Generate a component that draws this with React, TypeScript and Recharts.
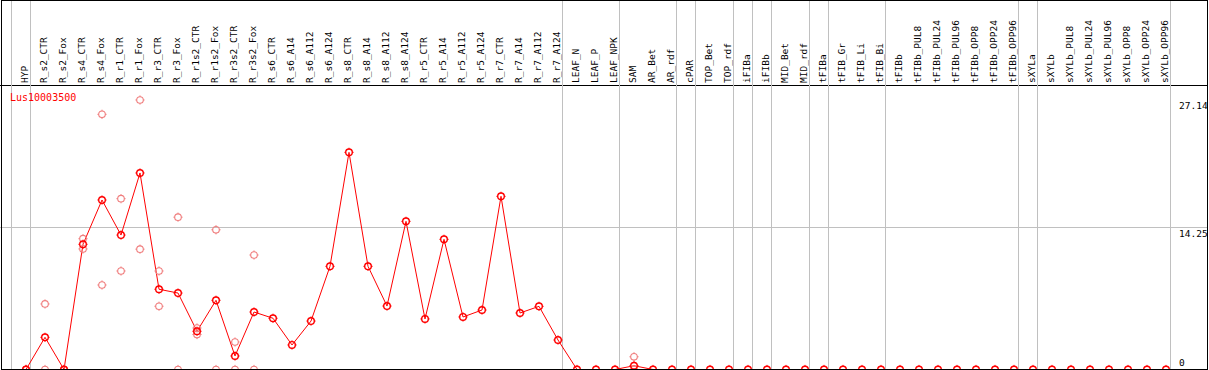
import React from 'react';
import { ComposedChart, Line, XAxis, YAxis, ReferenceLine } from 'recharts';

const CATEGORIES = [
  'HYP', 'R_s2_CTR', 'R_s2_Fox', 'R_s4_CTR', 'R_s4_Fox', 'R_r1_CTR', 'R_r1_Fox', 'R_r3_CTR', 'R_r3_Fox',
  'R_r1s2_CTR', 'R_r1s2_Fox', 'R_r3s2_CTR', 'R_r3s2_Fox', 'R_s6_CTR', 'R_s6_A14', 'R_s6_A112', 'R_s6_A124',
  'R_s8_CTR', 'R_s8_A14', 'R_s8_A112', 'R_s8_A124', 'R_r5_CTR', 'R_r5_A14', 'R_r5_A112', 'R_r5_A124',
  'R_r7_CTR', 'R_r7_A14', 'R_r7_A112', 'R_r7_A124', 'LEAF_N', 'LEAF_P', 'LEAF_NPK', 'SAM', 'AR_Bet', 'AR_rdf',
  'cPAR', 'TOP_Bet', 'TOP_rdf', 'iFIBa', 'iFIBb', 'MID_Bet', 'MID_rdf', 'tFIBa', 'tFIB_Gr', 'tFIB_Li', 'tFIB_Bi',
  'tFIBb', 'tFIBb_PUL8', 'tFIBb_PUL24', 'tFIBb_PUL96', 'tFIBb_OPP8', 'tFIBb_OPP24', 'tFIBb_OPP96', 'sXYLa',
  'sXYLb', 'sXYLb_PUL8', 'sXYLb_PUL24', 'sXYLb_PUL96', 'sXYLb_OPP8', 'sXYLb_OPP24', 'sXYLb_OPP96',
];

const MEANS = [
  0, 3.24, 0, 12.61, 17.07, 13.54, 19.79, 8.08, 7.7,
  3.85, 6.97, 1.36, 5.79, 5.16, 2.47, 4.88, 10.39,
  21.87, 10.39, 6.39, 14.92, 5.09, 13.11, 5.29, 5.99,
  17.44, 5.69, 6.36, 2.97, 0, 0, 0, 0.38, 0, 0,
  0, 0, 0, 0, 0, 0, 0, 0, 0, 0, 0,
  0, 0, 0, 0, 0, 0, 0, 0,
  0, 0, 0, 0, 0, 0, 0,
];

const N = null;
const REP_A = [
  0, 6.6, 0, 13.17, 25.7, 17.2, 27.14, 9.92, 15.34,
  4.18, 14.07, 2.77, 11.53, N, N, N, N,
  N, N, N, N, N, N, N, N,
  N, N, N, N, N, N, N, 1.28, N, N,
  N, N, N, N, N, N, N, N, N, N, N,
  N, N, N, N, N, N, N, N,
  N, N, N, N, N, N, N,
];
const REP_B = [
  0, 0, 0, 12.14, 8.51, 9.92, 12.12, 6.37, 0,
  3.52, 0, 0, 0, N, N, N, N,
  N, N, N, N, N, N, N, N,
  N, N, N, N, N, N, N, 0, N, N,
  N, N, N, N, N, N, N, N, N, N, N,
  N, N, N, N, N, N, N, N,
  N, N, N, N, N, N, N,
];

const GROUP_ENDS = [-1, 0, 28, 31, 34, 35, 37, 38, 39, 41, 42, 45, 52, 53, 60];
const Y_TICKS = [0, 14.25, 27.14];
const GENE = 'Lus10003500';

const W = 1209;
const H = 370;
const PLOT_W = W - 1;
const SEP_OFFSET = 0.24;
const X_MIN = -26 / 19;
const X_MAX = (PLOT_W - 26) / 19;
const Y_MAX = 28.6;
const HEADER_H = 85.5;
const MONO = "'DejaVu Sans Mono', monospace";
const GRID = '#c0c0c0';

const rows = CATEGORIES.map((name, i) => ({ i, name, mean: MEANS[i], a: REP_A[i], b: REP_B[i] }));
const sepValues = GROUP_ENDS.map((k) => k + SEP_OFFSET);
const xTicks = [...CATEGORIES.map((_, i) => i), ...sepValues];

const makeDot = (color: string, sw: number) => (props: any) => {
  const { cx, cy, value, index } = props;
  const key = `d${index}`;
  if (value == null || cx == null || cy == null || Number.isNaN(cy)) return <g key={key} />;
  const r = 3.3;
  return (
    <g key={key}>
      <circle cx={cx} cy={cy} r={r} fill="none" stroke={color} strokeWidth={sw} />
      <line x1={cx} y1={cy - r - 1.3} x2={cx} y2={cy - r + 0.3} stroke={color} strokeWidth={1} />
      <line x1={cx} y1={cy + r - 0.3} x2={cx} y2={cy + r + 1.3} stroke={color} strokeWidth={1} />
      <line x1={cx - r - 1.3} y1={cy} x2={cx - r + 0.3} y2={cy} stroke={color} strokeWidth={1} />
      <line x1={cx + r - 0.3} y1={cy} x2={cx + r + 1.3} y2={cy} stroke={color} strokeWidth={1} />
    </g>
  );
};

const HeaderTick = (props: any) => {
  const { x, payload } = props;
  const v = payload.value;
  if (Number.isInteger(v) && v >= 0) {
    return (
      <text
        transform={`translate(${x + 1.5},83) rotate(-90)`}
        fontSize={9.5}
        fontFamily={MONO}
        fill="#000"
        textAnchor="start"
      >
        {CATEGORIES[v]}
      </text>
    );
  }
  return <line x1={x} x2={x} y1={0} y2={HEADER_H} stroke={GRID} strokeWidth={1} shapeRendering="crispEdges" />;
};

const RightTick = (props: any) => {
  const { y, payload } = props;
  const v = payload.value;
  return (
    <text x={1179} y={v === 0 ? y - 3.5 : y + 9} fontSize={9.5} fontFamily={MONO} fill="#000" textAnchor="start">
      {String(v)}
    </text>
  );
};

export default function App() {
  return (
    <div style={{ position: 'absolute', left: 0, top: 0, width: W, height: H, background: '#fff' }}>
      <ComposedChart
        width={W}
        height={H}
        data={rows}
        margin={{ top: HEADER_H - 1, right: 0, bottom: 0.5, left: 0 }}
      >
        <XAxis
          xAxisId="x"
          type="number"
          dataKey="i"
          orientation="top"
          domain={[X_MIN, X_MAX]}
          allowDataOverflow
          height={1}
          ticks={xTicks}
          interval={0}
          tickLine={false}
          axisLine={{ stroke: '#000', strokeWidth: 1 }}
          tick={HeaderTick}
        />
        <YAxis
          yAxisId="y"
          orientation="right"
          width={1}
          domain={[0, Y_MAX]}
          allowDataOverflow
          ticks={Y_TICKS}
          interval={0}
          axisLine={false}
          tickLine={false}
          tick={RightTick}
        />
        {sepValues.map((s) => (
          <ReferenceLine
            key={`sep${s}`}
            xAxisId="x"
            yAxisId="y"
            x={s}
            stroke={GRID}
            strokeWidth={1}
            shapeRendering="crispEdges"
          />
        ))}
        <ReferenceLine xAxisId="x" yAxisId="y" y={14.25} stroke={GRID} strokeWidth={1} shapeRendering="crispEdges" />
        <Line
          xAxisId="x"
          yAxisId="y"
          dataKey="a"
          stroke="none"
          dot={makeDot('#f08080', 1.1)}
          isAnimationActive={false}
          connectNulls={false}
        />
        <Line
          xAxisId="x"
          yAxisId="y"
          dataKey="b"
          stroke="none"
          dot={makeDot('#f08080', 1.1)}
          isAnimationActive={false}
          connectNulls={false}
        />
        <Line
          xAxisId="x"
          yAxisId="y"
          dataKey="mean"
          stroke="#ff0000"
          strokeWidth={1}
          dot={makeDot('#ff0000', 1.4)}
          isAnimationActive={false}
        />
      </ComposedChart>
      <svg
        width={W}
        height={H}
        style={{ position: 'absolute', left: 0, top: 0, pointerEvents: 'none' }}
      >
        <text x={10} y={101} fontSize={10} fontFamily={MONO} fill="#ff0000">
          {GENE}
        </text>
      </svg>
      <div
        style={{
          position: 'absolute',
          left: 1,
          top: 0,
          width: W - 2,
          height: H,
          border: '1px solid #000',
          boxSizing: 'border-box',
          pointerEvents: 'none',
        }}
      />
    </div>
  );
}
